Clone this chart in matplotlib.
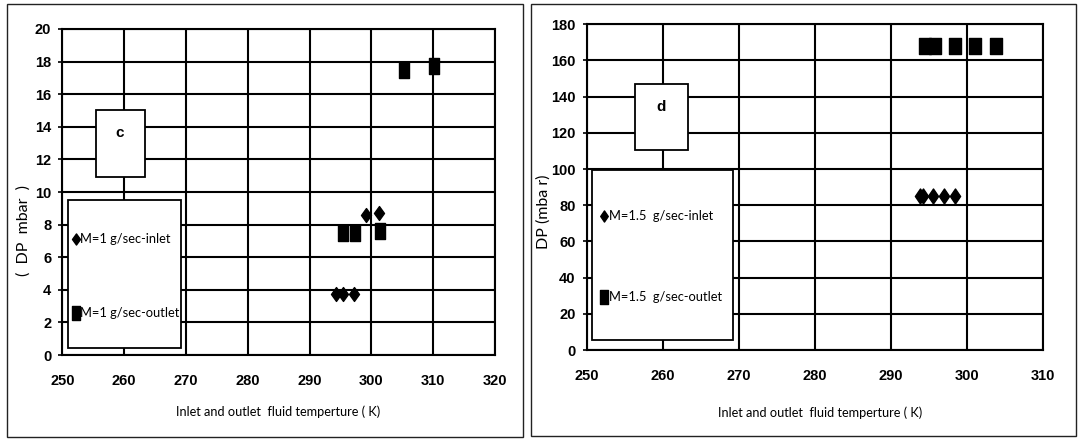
import matplotlib.pyplot as plt
from matplotlib.patches import Rectangle
from matplotlib.path import Path
import numpy as np

plt.rcParams['font.family'] = ['Lato', 'DejaVu Sans']
TICKFONT = ['Liberation Sans', 'DejaVu Sans']

# panel c : M = 1 g/sec
c_inlet_T = [294.2, 295.4, 297.2, 299.2, 301.2]
c_inlet_dp = [3.75, 3.75, 3.75, 8.6, 8.7]
c_outlet_T = [295.4, 297.3, 301.4, 305.2, 310.1]
c_outlet_dp = [7.5, 7.5, 7.6, 17.5, 17.7]

# panel d : M = 1.5 g/sec
d_inlet_T = [293.9, 294.2, 295.6, 297.0, 298.4]
d_inlet_dp = [85, 85, 85, 85, 85]
d_outlet_T = [294.5, 295.8, 298.4, 301.1, 303.8]
d_outlet_dp = [168, 168, 168, 168, 168]

c_xticks = np.arange(250, 321, 10)
c_yticks = np.arange(0, 21, 2)
d_xticks = np.arange(250, 311, 10)
d_yticks = np.arange(0, 181, 20)

xlabel = 'Inlet and outlet  fluid temperture ( K)'

W, H = 1078, 444
fig = plt.figure(figsize=(W / 100, H / 100), dpi=100)


def fr(x0, y0, x1, y1):
    # pixel box (top-left origin) -> figure fraction rect
    return [x0 / W, 1 - y1 / H, (x1 - x0) / W, (y1 - y0) / H]


def rect_marker(aspect):
    v = [(-aspect / 2, -0.5), (aspect / 2, -0.5), (aspect / 2, 0.5), (-aspect / 2, 0.5), (0, 0)]
    return Path(v, [Path.MOVETO, Path.LINETO, Path.LINETO, Path.LINETO, Path.CLOSEPOLY])


def diamond_marker(aspect):
    v = [(0, 0.5), (aspect / 2, 0), (0, -0.5), (-aspect / 2, 0), (0, 0)]
    return Path(v, [Path.MOVETO, Path.LINETO, Path.LINETO, Path.LINETO, Path.CLOSEPOLY])


# outer frames of the two panels
for box in [(7.3, 4.3, 523.3, 436.7), (531.3, 4.3, 1076, 436)]:
    l, b, w, h = fr(*box)
    fig.add_artist(Rectangle((l, b), w, h, transform=fig.transFigure,
                             fill=False, edgecolor='#222222', lw=1.0))


def setup(ax, xticks, yticks):
    ax.set_xlim(xticks[0], xticks[-1])
    ax.set_ylim(yticks[0], yticks[-1])
    ax.set_xticks(xticks)
    ax.set_yticks(yticks)
    ax.grid(True, color='black', lw=1.5)
    ax.set_axisbelow(True)
    for s in ax.spines.values():
        s.set_color('black')
        s.set_linewidth(1.5)
    ax.tick_params(axis='y', length=3, width=1.2, pad=5)
    ax.tick_params(axis='x', length=0, pad=14)
    ax.set_xticklabels([str(t) for t in xticks], family=TICKFONT, fontsize=10.5, fontweight='bold')
    ax.set_yticklabels([str(t) for t in yticks], family=TICKFONT, fontsize=10.5, fontweight='bold')


# ---------------- panel c ----------------
ax1 = fig.add_axes(fr(62.3, 29, 495, 355))
setup(ax1, c_xticks, c_yticks)
sq1 = rect_marker(0.68)
dm1 = diamond_marker(0.72)
ax1.plot(c_outlet_T, c_outlet_dp, ls='none', marker=sq1, ms=11.5, color='black', zorder=5)
ax1.plot(c_inlet_T, c_inlet_dp, ls='none', marker=dm1, ms=10, color='black', zorder=5)

ax1.add_patch(Rectangle((255.5, 10.95), 7.9, 4.05, facecolor='white', edgecolor='black', lw=1.3, zorder=3))
ax1.text(259.3, 13.6, 'c', fontsize=11, family=TICKFONT, fontweight='bold', ha='center', va='center', zorder=4)
ax1.add_patch(Rectangle((250.9, 0.45), 18.3, 9.05, facecolor='white', edgecolor='black', lw=1.3, zorder=3))
ax1.plot([252.2], [7.1], ls='none', marker=dm1, ms=8, color='black', zorder=4)
ax1.text(252.9, 7.1, 'M=1 g/sec-inlet', fontsize=9.3, ha='left', va='center', zorder=4)
ax1.plot([252.2], [2.55], ls='none', marker=sq1, ms=9.5, color='black', zorder=4)
ax1.text(252.9, 2.55, 'M=1 g/sec-outlet', fontsize=9.3, ha='left', va='center', zorder=4)

fig.text(278 / W, 1 - 412 / H, xlabel, fontsize=9.2, ha='center', va='center')
fig.text(23.5 / W, 1 - 230 / H, '(  DP  mbar  )', fontsize=11.5, rotation=90,
         ha='center', va='center')

# ---------------- panel d ----------------
ax2 = fig.add_axes(fr(586.7, 24.3, 1042.7, 350))
setup(ax2, d_xticks, d_yticks)
sq2 = rect_marker(0.65)
dm2 = diamond_marker(0.68)
ax2.plot(d_outlet_T, d_outlet_dp, ls='none', marker=sq2, ms=12.2, color='black', zorder=5)
ax2.plot(d_inlet_T, d_inlet_dp, ls='none', marker=dm2, ms=10.8, color='black', zorder=5)

ax2.add_patch(Rectangle((256.4, 110.5), 6.9, 36.5, facecolor='white', edgecolor='black', lw=1.3, zorder=3))
ax2.text(259.8, 134.5, 'd', fontsize=11, family=TICKFONT, fontweight='bold', ha='center', va='center', zorder=4)
ax2.add_patch(Rectangle((250.66, 5.4), 18.64, 94.1, facecolor='white', edgecolor='black', lw=1.3, zorder=3))
ax2.plot([252.3], [74.3], ls='none', marker=dm2, ms=8, color='black', zorder=4)
ax2.text(252.9, 74.3, 'M=1.5  g/sec-inlet', fontsize=9.3, ha='left', va='center', zorder=4)
ax2.plot([252.3], [29.5], ls='none', marker=sq2, ms=9.5, color='black', zorder=4)
ax2.text(252.9, 29.5, 'M=1.5  g/sec-outlet', fontsize=9.3, ha='left', va='center', zorder=4)

fig.text(820 / W, 1 - 413 / H, xlabel, fontsize=9.2, ha='center', va='center')
fig.text(544 / W, 1 - 212 / H, 'DP (mba r)', fontsize=11.5, rotation=90,
         ha='center', va='center')

fig.savefig('out.png', dpi=100)
